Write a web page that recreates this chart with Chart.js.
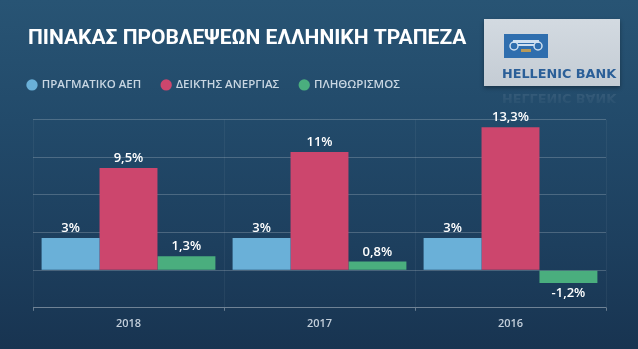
<!DOCTYPE html>
<html lang="el">
<head>
<meta charset="utf-8">
<title>Πίνακας προβλέψεων</title>
<script src="https://cdn.jsdelivr.net/npm/chart.js@4"></script>
<style>
  html, body { margin: 0; padding: 0; }
  body {
    width: 638px; height: 349px; overflow: hidden; position: relative;
    background: linear-gradient(180deg, #285474 0%, #224a6a 35%, #1d3f5e 70%, #183451 100%);
  }
  #wrap { position: absolute; left: 0; top: 0; width: 638px; height: 349px; }
  .logo {
    position: absolute; left: 484px; top: 19px; width: 136px; height: 67px;
    background: linear-gradient(180deg, #d3dae1, #c4ccd4);
    box-shadow: 0 2px 4px rgba(0,0,0,0.35);
  }
  .logo .icon { position: absolute; left: 20px; top: 15px; width: 44px; height: 24px; background: #2f6eae; }
  .logo .name {
    position: absolute; left: 18px; top: 47px; white-space: nowrap;
    font: bold 12.8px "DejaVu Sans", sans-serif; color: #2b5f98;
  }
  .mirror {
    position: absolute; left: 484px; top: 86px; width: 136px; height: 24px; overflow: hidden;
    -webkit-mask-image: linear-gradient(180deg, rgba(0,0,0,0.22), rgba(0,0,0,0));
    mask-image: linear-gradient(180deg, rgba(0,0,0,0.22), rgba(0,0,0,0));
  }
  .mirror .name {
    position: absolute; left: 18px; top: 5px; white-space: nowrap; transform: scaleY(-1);
    font: bold 12.8px "DejaVu Sans", sans-serif; color: #9fb2c4;
  }
</style>
</head>
<body>
<div id="wrap"><canvas id="forecastChart" width="638" height="349"></canvas></div>

<div class="logo">
  <div class="icon">
    <svg width="44" height="24" viewBox="0 0 44 24">
      <rect x="9" y="6" width="26" height="3" fill="#cfe0f0"/>
      <circle cx="10" cy="12" r="4" fill="none" stroke="#cfe0f0" stroke-width="1.5"/>
      <circle cx="34" cy="12" r="4" fill="none" stroke="#cfe0f0" stroke-width="1.5"/>
      <rect x="14" y="10" width="16" height="2" fill="#cfe0f0"/>
      <rect x="17" y="15" width="10" height="3" fill="#b89a5a"/>
    </svg>
  </div>
  <div class="name">HELLENIC BANK</div>
</div>
<div class="mirror"><div class="name">HELLENIC BANK</div></div>

<script>
const years = ['2018', '2017', '2016'];
const gdpGrowth = [3, 3, 3];
const unemployment = [9.5, 11, 13.3];
const inflation = [1.3, 0.8, -1.2];
const yTicks = [-3.5, 0, 3.5, 7, 10.5, 14];

// value labels above (or below, when negative) each bar
const valueLabels = {
    id: 'valueLabels',
    afterDatasetsDraw(chart) {
        const ctx = chart.ctx;
        ctx.save();
        ctx.font = '600 13px "Open Sans", sans-serif';
        ctx.fillStyle = '#ffffff';
        ctx.textAlign = 'center';
        chart.data.datasets.forEach((ds, i) => {
            chart.getDatasetMeta(i).data.forEach((bar, j) => {
                const v = ds.data[j];
                const txt = String(v).replace('.', ',') + '%';
                if (v >= 0) {
                    ctx.textBaseline = 'bottom';
                    ctx.fillText(txt, bar.x, bar.y - 3);
                } else {
                    ctx.textBaseline = 'top';
                    ctx.fillText(txt, bar.x, bar.y + 4);
                }
            });
        });
        ctx.restore();
    }
};

// extra room under the legend, and pull it flush with the title
const legendPad = 21;
const legendSpacing = {
    id: 'legendSpacing',
    beforeInit(chart) {
        const legend = chart.legend;
        const fit = legend.fit;
        legend.fit = function () {
            fit.bind(legend)();
            this.height += 19;
        };
        const draw = legend.draw;
        legend.draw = function () {
            chart.ctx.save();
            chart.ctx.translate(-legendPad, 0);
            draw.bind(legend)();
            chart.ctx.restore();
        };
    }
};

const ctx = document.getElementById('forecastChart').getContext('2d');
const forecastChart = new Chart(ctx, {
    type: 'bar',
    data: {
        labels: years,
        datasets: [
            { label: 'ΠΡΑΓΜΑΤΙΚΟ ΑΕΠ', data: gdpGrowth, backgroundColor: '#6ab0d8' },
            { label: 'ΔΕΙΚΤΗΣ ΑΝΕΡΓΙΑΣ', data: unemployment, backgroundColor: '#cc466d' },
            { label: 'ΠΛΗΘΩΡΙΣΜΟΣ', data: inflation, backgroundColor: '#4aae7e' }
        ]
    },
    options: {
        responsive: false,
        animation: false,
        categoryPercentage: 0.91,
        barPercentage: 1.0,
        layout: { padding: { left: 28, right: 32, top: 0, bottom: 13 } },
        plugins: {
            title: {
                display: true,
                text: 'ΠΙΝΑΚΑΣ ΠΡΟΒΛΕΨΕΩΝ ΕΛΛΗΝΙΚΗ ΤΡΑΠΕΖΑ',
                align: 'start',
                color: '#ffffff',
                font: { family: 'Roboto', size: 21, weight: 'bold' },
                padding: { top: 26, bottom: 7 }
            },
            legend: {
                align: 'start',
                labels: {
                    usePointStyle: true,
                    pointStyle: 'circle',
                    boxWidth: 8,
                    boxHeight: 8,
                    padding: legendPad,
                    color: '#c8d6e2',
                    font: { family: '"Open Sans"', size: 11.5, weight: '600' }
                }
            },
            tooltip: { enabled: false }
        },
        scales: {
            x: {
                grid: { color: 'rgba(255,255,255,0.05)', tickColor: 'rgba(255,255,255,0.35)', tickLength: 3 },
                border: { color: 'rgba(255,255,255,0.22)' },
                ticks: {
                    color: '#c3cfdb',
                    padding: 6,
                    font: { family: '"Open Sans"', size: 11, weight: '600' }
                }
            },
            y: {
                min: yTicks[0],
                max: yTicks[yTicks.length - 1],
                afterBuildTicks: (scale) => { scale.ticks = yTicks.map(v => ({ value: v })); },
                afterFit: (scale) => { scale.width = 5; },
                grid: { color: 'rgba(255,255,255,0.2)', drawTicks: false },
                border: { display: false },
                ticks: { display: false }
            }
        }
    },
    plugins: [valueLabels, legendSpacing]
});
</script>
</body>
</html>
